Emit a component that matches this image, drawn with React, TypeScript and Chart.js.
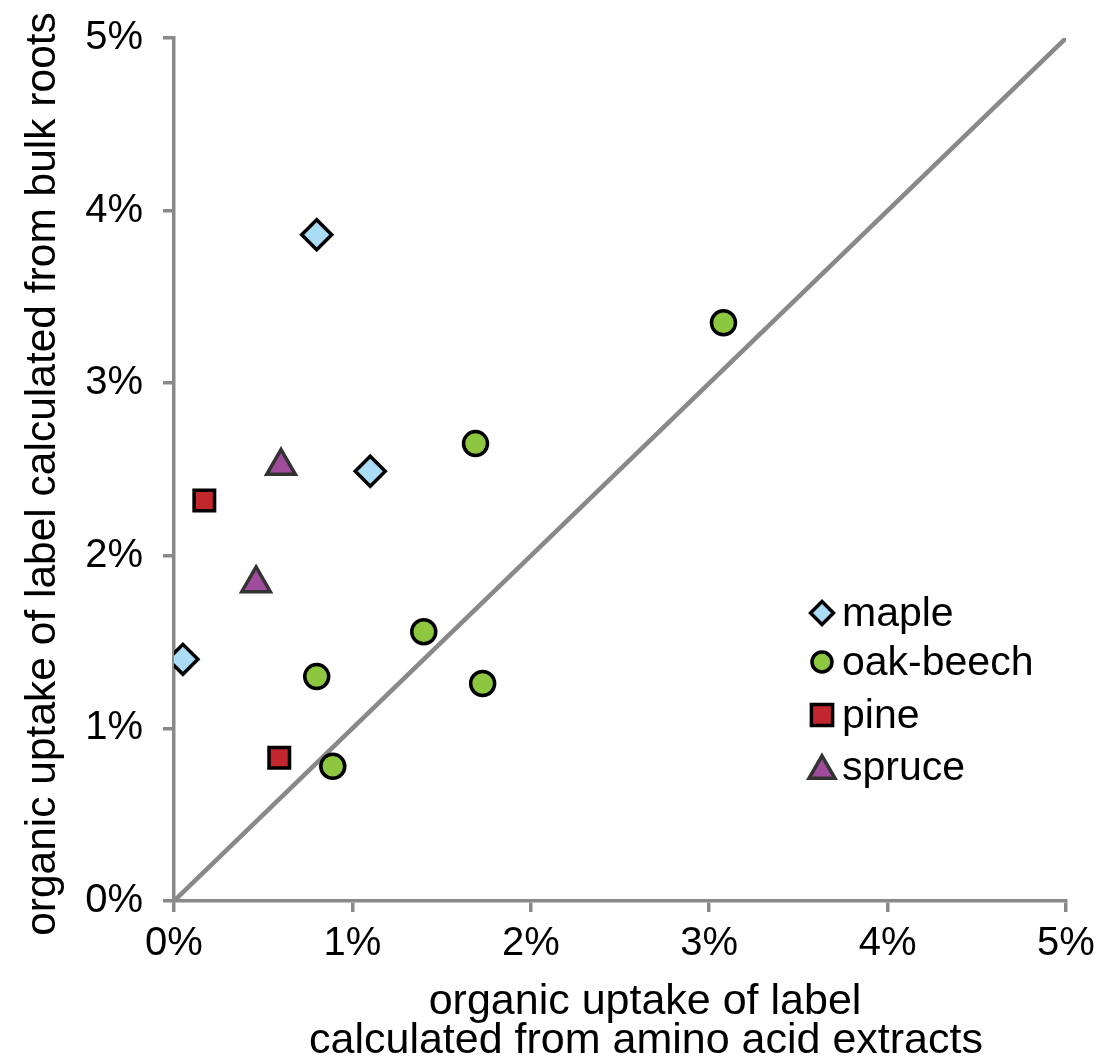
import React, { useEffect, useRef } from 'react';
import { Chart, registerables } from 'chart.js';

Chart.register(...registerables);

// ---- data ----
const seriesNames = ['maple', 'oak-beech', 'pine', 'spruce'];
const mapleX = [0.8, 1.1, 0.05];
const mapleY = [3.86, 2.49, 1.4];
const oakX = [3.08, 1.69, 1.4, 0.8, 1.73, 0.89];
const oakY = [3.35, 2.65, 1.56, 1.3, 1.26, 0.78];
const pineX = [0.17, 0.59];
const pineY = [2.32, 0.83];
const spruceX = [0.6, 0.46];
const spruceY = [2.52, 1.84];
const lineX = [0, 5];
const lineY = [0, 5];
const tickValues = [0, 1, 2, 3, 4, 5];
const xTitle = ['organic uptake of label', 'calculated from amino acid extracts'];
const yTitle = 'organic uptake of label calculated from bulk roots';

// ---- styles ----
const FONT = '"Liberation Sans", Arial, Helvetica, sans-serif';
const AXIS_GRAY = '#898989';
const seriesStyles = [
  { pointStyle: 'rectRot', radius: 15, fill: '#aadcf6', stroke: '#000000', legendRadius: 11.5 },
  { pointStyle: 'circle', radius: 12, fill: '#8dc63f', stroke: '#000000', legendRadius: 10 },
  { pointStyle: 'rect', radius: 14.5, fill: '#c1272d', stroke: '#000000', legendRadius: 15 },
  { pointStyle: 'triangle', radius: 16.5, fill: '#a04c9c', stroke: '#333333', legendRadius: 15 },
];

const zip = (xs: number[], ys: number[]) => xs.map((x, i) => ({ x, y: ys[i] }));

function drawMarker(ctx: CanvasRenderingContext2D, style: string, x: number, y: number, r: number, fill: string, stroke: string, lw: number) {
  ctx.beginPath();
  if (style === 'circle') {
    ctx.arc(x, y, r, 0, Math.PI * 2);
  } else if (style === 'rectRot') {
    ctx.moveTo(x - r, y);
    ctx.lineTo(x, y - r);
    ctx.lineTo(x + r, y);
    ctx.lineTo(x, y + r);
    ctx.closePath();
  } else if (style === 'rect') {
    const s = r * Math.SQRT1_2;
    ctx.rect(x - s, y - s, 2 * s, 2 * s);
  } else if (style === 'triangle') {
    ctx.moveTo(x, y - r);
    ctx.lineTo(x + r * Math.sin((2 * Math.PI) / 3), y - r * Math.cos((2 * Math.PI) / 3));
    ctx.lineTo(x + r * Math.sin((4 * Math.PI) / 3), y - r * Math.cos((4 * Math.PI) / 3));
    ctx.closePath();
  }
  ctx.fillStyle = fill;
  ctx.fill();
  ctx.lineWidth = lw;
  ctx.strokeStyle = stroke;
  ctx.lineJoin = 'miter';
  ctx.stroke();
}

const overlayPlugin = {
  id: 'overlay',
  afterDraw(chart: any) {
    const ctx: CanvasRenderingContext2D = chart.ctx;
    ctx.save();
    ctx.fillStyle = '#000';
    // x title
    ctx.font = `43px ${FONT}`;
    ctx.textAlign = 'center';
    ctx.textBaseline = 'middle';
    ctx.fillText(xTitle[0], 645, 1002);
    ctx.fillText(xTitle[1], 646, 1041);
    // y title
    ctx.save();
    ctx.translate(43, 474);
    ctx.rotate(-Math.PI / 2);
    ctx.font = `42.5px ${FONT}`;
    ctx.fillText(yTitle, 0, 0);
    ctx.restore();
    // legend
    const legendX = 822;
    const legendYs = [613, 662, 715, 767];
    ctx.font = `41px ${FONT}`;
    ctx.textAlign = 'left';
    ctx.textBaseline = 'middle';
    seriesNames.forEach((name, i) => {
      const st = seriesStyles[i];
      const my = st.pointStyle === 'triangle' ? legendYs[i] + st.legendRadius / 4 : legendYs[i];
      drawMarker(ctx, st.pointStyle, legendX, my, st.legendRadius, st.fill, st.stroke, 3.5);
      ctx.fillStyle = '#000';
      ctx.fillText(name, 842, legendYs[i] + 2);
    });
    ctx.restore();
  },
};

export default function App() {
  const canvasRef = useRef<HTMLCanvasElement | null>(null);

  useEffect(() => {
    if (!canvasRef.current) return;
    const seriesData = [zip(mapleX, mapleY), zip(oakX, oakY), zip(pineX, pineY), zip(spruceX, spruceY)];
    const datasets: any[] = seriesNames.map((name, i) => ({
      type: 'scatter',
      label: name,
      data: seriesData[i],
      pointStyle: seriesStyles[i].pointStyle,
      pointRadius: seriesStyles[i].radius,
      pointHoverRadius: seriesStyles[i].radius,
      backgroundColor: seriesStyles[i].fill,
      borderColor: seriesStyles[i].stroke,
      pointBorderWidth: 3.5,
      borderWidth: 3.5,
      order: 1,
    }));
    datasets.push({
      type: 'line',
      label: '1:1',
      data: zip(lineX, lineY),
      borderColor: AXIS_GRAY,
      borderWidth: 4.5,
      borderCapStyle: 'round',
      pointRadius: 0,
      fill: false,
      order: 10,
    });

    const axisCommon = {
      type: 'linear',
      min: 0,
      max: 5,
      afterBuildTicks: (scale: any) => {
        scale.ticks = tickValues.map((v) => ({ value: v }));
      },
      grid: {
        display: true,
        drawOnChartArea: false,
        drawTicks: true,
        tickLength: 11,
        color: AXIS_GRAY,
        lineWidth: 3.5,
      },
      border: { display: true, color: AXIS_GRAY, width: 3.5 },
    };

    const chart = new Chart(canvasRef.current, {
      type: 'scatter',
      data: { datasets },
      plugins: [overlayPlugin],
      options: {
        animation: false,
        responsive: true,
        maintainAspectRatio: false,
        layout: { padding: { top: 38, right: 37, left: 0, bottom: 0 } },
        plugins: { legend: { display: false }, tooltip: { enabled: false } },
        scales: {
          x: {
            ...axisCommon,
            position: 'bottom',
            ticks: {
              color: '#000',
              font: { family: FONT, size: 40 },
              padding: 8,
              callback: (v: any) => `${v}%`,
            },
            afterFit: (scale: any) => {
              scale.height = 160;
              scale.paddingLeft = 0;
              scale.paddingRight = 0;
            },
          },
          y: {
            ...axisCommon,
            position: 'left',
            ticks: {
              color: '#000',
              font: { family: FONT, size: 40 },
              padding: 20,
              callback: (v: any) => `${v}%`,
            },
            afterFit: (scale: any) => {
              scale.width = 174;
              scale.paddingTop = 0;
              scale.paddingBottom = 0;
            },
          },
        } as any,
      } as any,
    } as any);
    return () => chart.destroy();
  }, []);

  return (
    <div style={{ position: 'fixed', left: 0, top: 0, width: 1103, height: 1061, background: '#fff' }}>
      <canvas ref={canvasRef} />
    </div>
  );
}
